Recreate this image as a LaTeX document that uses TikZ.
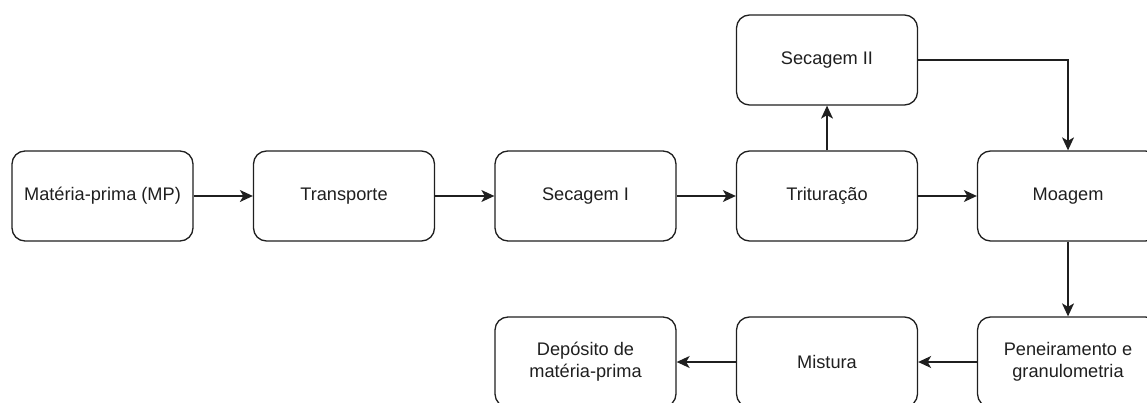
\documentclass[tikz,border=0pt]{standalone}
\usepackage{fontspec}
\setmainfont{Liberation Sans}
\usetikzlibrary{arrows.meta}
\definecolor{ink}{HTML}{1F1F1F}
\begin{document}
\begin{tikzpicture}[x=1pt,y=-1pt,
  stepbox/.style={draw=ink, line width=1.3pt, rounded corners=13pt,
    minimum width=181pt, minimum height=90pt, inner sep=2pt,
    align=center, text=ink,
    font=\fontsize{18.2pt}{22pt}\selectfont},
  flow/.style={draw=ink, line width=1.3pt,
    -{Stealth[length=13pt, width=12pt, inset=3.5pt]}}]
\useasboundingbox (0,0) rectangle (1147,403);
\clip (0,0) rectangle (1147,403);
% main row
\node[stepbox] (mp)  at (102.5,196) {Matéria-prima (MP)};
\node[stepbox] (tr)  at (344,196)   {Transporte};
\node[stepbox] (s1)  at (585.5,196) {Secagem I};
\node[stepbox] (tri) at (827,196)   {Trituração};
\node[stepbox] (moa) at (1068,196)  {Moagem};
% upper branch
\node[stepbox] (s2)  at (827,60)    {Secagem II};
% lower row
\node[stepbox] (pen) at (1068,362)  {Peneiramento e\\granulometria};
\node[stepbox] (mis) at (827,362)   {Mistura};
\node[stepbox] (dep) at (585.5,362) {Depósito de\\matéria-prima};
% connectors
\draw[flow] (mp)  -- (tr);
\draw[flow] (tr)  -- (s1);
\draw[flow] (s1)  -- (tri);
\draw[flow] (tri) -- (moa);
\draw[flow] (tri) -- (s2);
\draw[flow] (s2.east) -| (moa.north);
\draw[flow] (moa) -- (pen);
\draw[flow] (pen) -- (mis);
\draw[flow] (mis) -- (dep);
\end{tikzpicture}
\end{document}
